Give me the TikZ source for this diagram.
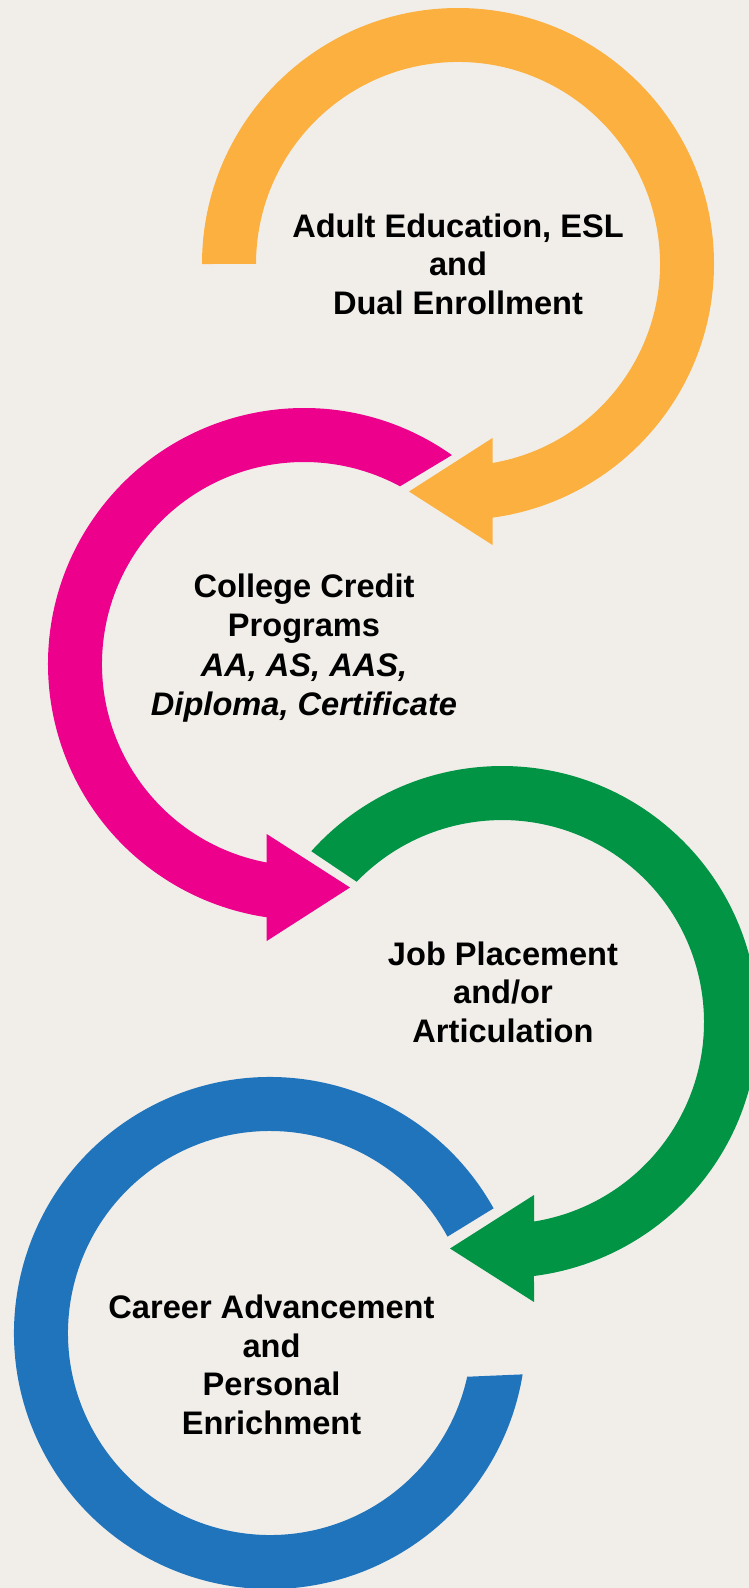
\documentclass[tikz,border=0pt]{standalone}
\usepackage{fontspec}
\setmainfont{Liberation Sans}
\usetikzlibrary{calc}

\definecolor{paper}{RGB}{241,238,234}
\definecolor{ringorange}{RGB}{251,176,64}
\definecolor{ringpink}{RGB}{236,0,140}
\definecolor{ringgreen}{RGB}{0,148,68}
\definecolor{ringblue}{RGB}{32,116,188}

\begin{document}
\begin{tikzpicture}[x=1pt,y=-1pt]
	\tikzstyle{stage}=[font=\fontsize{32.6}{38.5}\selectfont\bfseries, align=center, inner sep=0pt, text=black]
	\tikzstyle{band}=[draw=none]
	% paper
	\fill[paper] (0,0) rectangle (749,1588);
	\useasboundingbox (0,0) rectangle (749,1588);
	\clip (0,0) rectangle (749,1588);
	% ring centres
	\coordinate (o1) at (458,264);
	\coordinate (o2) at (304,664);
	\coordinate (o3) at (502,1022);
	\coordinate (o4) at (270,1333);
	% orange, clockwise, head pointing left
	\fill[band, ringorange] ($(o1)+(180:256)$) arc[start angle=180, end angle=442.25, radius=256]
		-- (492.5,545) -- (409,491.5) -- (492.5,438) -- (492.5,463)
		arc[start angle=440.17, end angle=180, radius=202] -- cycle;
	% pink, anticlockwise, head pointing right
	\fill[band, ringpink] ($(o2)+(305.3:256)$) arc[start angle=305.3, end angle=98.38, radius=256]
		-- (266.7,941) -- (350,887.5) -- (266.7,834) -- (266.7,862.5)
		arc[start angle=100.64, end angle=298.4, radius=202] -- cycle;
	% green, clockwise, head pointing left
	\fill[band, ringgreen] ($(o3)+(221.84:256)$) arc[start angle=221.84, end angle=442.82, radius=256]
		-- (534,1302) -- (450,1248.5) -- (534,1195) -- (534,1221.5)
		arc[start angle=440.88, end angle=224, radius=202] -- cycle;
	% blue, open ring
	\fill[band, ringblue] ($(o4)+(330.85:256)$) arc[start angle=330.85, end angle=9.3, radius=256]
		-- ($(o4)+(12.5:202)$)
		arc[start angle=12.5, end angle=331.5, radius=202] -- cycle;
	% labels
	\node[stage] (adult) at (458,264) {Adult Education, ESL\\and\\Dual Enrollment};
	\node[stage, font=\fontsize{32.6}{39.5}\selectfont\bfseries] (credit) at (304,648) {College Credit\\Programs\\\textit{AA, AS, AAS,}\\\textit{Diploma, Certificate}};
	\node[stage] (job) at (503,992) {Job Placement\\and/or\\Articulation};
	\node[stage] (career) at (271.5,1365) {Career Advancement\\and\\Personal\\Enrichment};
\end{tikzpicture}
\end{document}
